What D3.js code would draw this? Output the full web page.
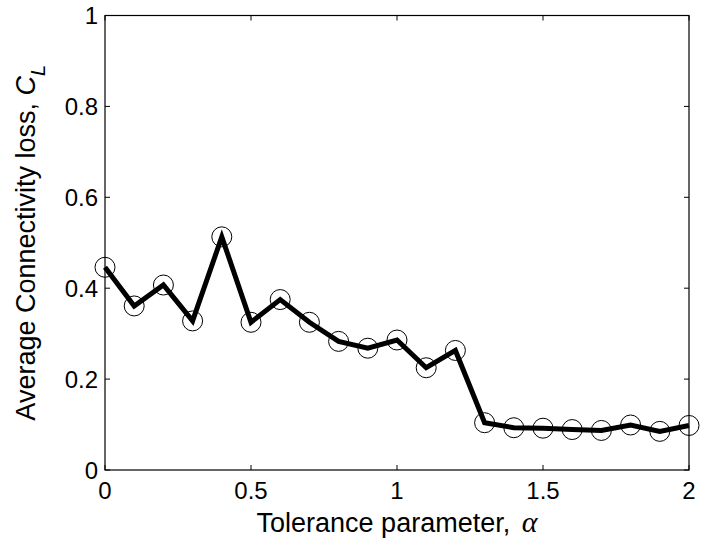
<!DOCTYPE html>
<html><head><meta charset="utf-8">
<script src="https://cdn.jsdelivr.net/npm/d3@7"></script>
<style>body{margin:0;background:#fff}svg{display:block}</style>
</head><body>
<script>
const alphaVals = [0,0.1,0.2,0.3,0.4,0.5,0.6,0.7,0.8,0.9,1.0,1.1,1.2,1.3,1.4,1.5,1.6,1.7,1.8,1.9,2.0];
const lossVals  = [0.446,0.361,0.407,0.328,0.513,0.325,0.375,0.325,0.283,0.268,0.286,0.225,0.263,0.104,0.093,0.092,0.089,0.087,0.099,0.085,0.098];
const xTicks = [0,0.5,1,1.5,2];
const yTicks = [0,0.2,0.4,0.6,0.8,1];
const xTickLabels = ["0","0.5","1","1.5","2"];
const yTickLabels = ["0","0.2","0.4","0.6","0.8","1"];

const W=713,H=539;
const m={l:105,r:24,t:15.5,b:69};
const svg=d3.select("body").append("svg").attr("width",W).attr("height",H);
const x=d3.scaleLinear().domain([0,2]).range([m.l,W-m.r]);
const y=d3.scaleLinear().domain([0,1]).range([H-m.b,m.t]);
const font="'Liberation Sans', Arial, sans-serif";
const fs=24, lfs=27;

// frame
svg.append("rect").attr("x",x(0)).attr("y",y(1)).attr("width",x(2)-x(0)).attr("height",y(0)-y(1))
  .attr("fill","none").attr("stroke","#000").attr("stroke-width",1.2);

const tl=5;
const g=svg.append("g");
xTicks.forEach((t,i)=>{
  g.append("line").attr("x1",x(t)).attr("x2",x(t)).attr("y1",y(0)).attr("y2",y(0)-tl).attr("stroke","#000");
  g.append("line").attr("x1",x(t)).attr("x2",x(t)).attr("y1",y(1)).attr("y2",y(1)+tl).attr("stroke","#000");
  g.append("text").attr("x",x(t)).attr("y",y(0)+29).attr("text-anchor","middle")
   .attr("font-family",font).attr("font-size",fs).text(xTickLabels[i]);
});
yTicks.forEach((t,i)=>{
  g.append("line").attr("x1",x(0)).attr("x2",x(0)+tl).attr("y1",y(t)).attr("y2",y(t)).attr("stroke","#000");
  g.append("line").attr("x1",x(2)).attr("x2",x(2)-tl).attr("y1",y(t)).attr("y2",y(t)).attr("stroke","#000");
  g.append("text").attr("x",x(0)-7).attr("y",y(t)).attr("dy","0.36em").attr("text-anchor","end")
   .attr("font-family",font).attr("font-size",fs).text(yTickLabels[i]);
});

const data=alphaVals.map((a,i)=>({a,v:lossVals[i]}));
svg.append("path").datum(data)
  .attr("d",d3.line().x(d=>x(d.a)).y(d=>y(d.v)))
  .attr("fill","none").attr("stroke","#000").attr("stroke-width",5).attr("stroke-linejoin","miter");
svg.selectAll("circle.pt").data(data).enter().append("circle")
  .attr("cx",d=>x(d.a)).attr("cy",d=>y(d.v)).attr("r",10)
  .attr("fill","none").attr("stroke","#000").attr("stroke-width",1);

// x label
const xl=svg.append("text").attr("x",(x(0)+x(2))/2).attr("y",532).attr("text-anchor","middle")
  .attr("font-family",font).attr("font-size",lfs);
xl.append("tspan").text("Tolerance parameter, ");
xl.append("tspan").attr("dx",4).attr("font-family","'Liberation Serif','Times New Roman',serif").attr("font-style","italic").attr("font-size",30).text("α");

// y label
const yl=svg.append("text").attr("transform",`translate(35,${(y(0)+y(1))/2}) rotate(-90)`).attr("text-anchor","middle")
  .attr("font-family",font).attr("font-size",lfs);
yl.append("tspan").text("Average Connectivity loss, ");
yl.append("tspan").attr("font-style","italic").text("C");
yl.append("tspan").attr("font-style","italic").attr("font-size",20).attr("dy",10).text("L");
</script>
</body></html>
